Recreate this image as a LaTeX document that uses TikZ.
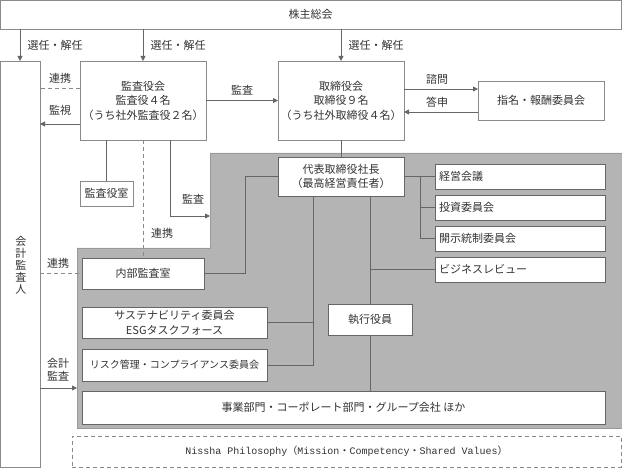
\documentclass[tikz,border=0pt]{standalone}
\usepackage{fontspec}
\setmainfont{Noto Sans CJK JP}
\newfontfamily\monof{Liberation Mono}
\usetikzlibrary{arrows.meta,calc,shadows}
\definecolor{txt}{HTML}{333333}
\definecolor{ln}{HTML}{666666}
\definecolor{bd}{HTML}{8A8A8A}
\definecolor{grayarea}{HTML}{B4B4B4}
\definecolor{grayedge}{HTML}{9A9A9A}
\begin{document}
\begin{tikzpicture}[x=1pt,y=-1pt,
 box/.style={draw=bd, fill=white, line width=0.8pt, inner sep=0pt, outer sep=0pt, text=txt, align=center, font=\fontsize{11}{14.5}\selectfont},
 ibox/.style={box, draw=ln, drop shadow={shadow xshift=1pt, shadow yshift=-1pt, fill=black, opacity=0.35}},
 rbox/.style={ibox, minimum width=170pt, minimum height=25pt, text width=162pt, align=left},
 lbl/.style={text=txt, inner sep=0pt, font=\fontsize{11}{13}\selectfont},
 conn/.style={draw=ln, line width=0.8pt},
 arr/.style={conn, -{Triangle[length=5pt,width=5pt]}},
 dsh/.style={draw=bd, line width=0.8pt, dash pattern=on 4pt off 3pt},
]
\useasboundingbox (0,0) rectangle (622,468);
% management area
\fill[grayarea, draw=grayedge, line width=0.6pt] (77,248) -- (210,248) -- (210,153) -- (622,153) -- (622,428) -- (77,428) -- cycle;

% boxes
\node[box, minimum width=621pt, minimum height=29pt] (share) at (310.5,14.5) {株主総会};
\node[box, minimum width=40pt, minimum height=406pt] (audit) at (20,264) {};
\node[lbl, align=center, font=\fontsize{11}{12}\selectfont] (auditlbl) at (21,265) {会\\計\\監\\査\\人};
\node[box, minimum width=126pt, minimum height=79pt] (kansa) at (143,100.5) {監査役会\\監査役４名\\（うち社外監査役２名）};
\node[box, minimum width=126pt, minimum height=79pt] (board) at (341,100.5) {取締役会\\取締役９名\\（うち社外取締役４名）};
\node[box, minimum width=126pt, minimum height=39pt] (shimei) at (541,100.5) {指名・報酬委員会};
\node[box, minimum width=53pt, minimum height=25pt] (kshitsu) at (106.5,193.5) {監査役室};
\node[ibox, minimum width=126pt, minimum height=39pt] (ceo) at (341,176.5) {代表取締役社長\\（最高経営責任者）};
\node[rbox] (keiei) at (520,176.5) {経営会議};
\node[rbox] (toshi) at (520,207.5) {投資委員会};
\node[rbox] (kaiji) at (520,238.5) {開示統制委員会};
\node[rbox] (biz) at (520,269.5) {ビジネスレビュー};
\node[ibox, minimum width=122pt, minimum height=31pt] (naibu) at (143,273.5) {内部監査室};
\node[ibox, minimum width=185pt, minimum height=31pt] (susta) at (174.5,322.5) {サステナビリティ委員会\\ESGタスクフォース};
\node[ibox, minimum width=185pt, minimum height=32pt, font=\fontsize{10}{12}\selectfont] (risk) at (174.5,365) {リスク管理・コンプライアンス委員会};
\node[ibox, minimum width=84pt, minimum height=31pt] (shikko) at (370,319.5) {執行役員};
\node[ibox, minimum width=523pt, minimum height=33pt] (jigyo) at (343.5,407.5) {事業部門・コーポレート部門・グループ会社 ほか};
\node[box, dsh, minimum width=549pt, minimum height=31pt, font=\fontsize{10}{12}\selectfont] (nissha) at (346.5,451.5) {{\monof Nissha Philosophy}（{\monof Mission}・{\monof Competency}・{\monof Shared Values}）};

\coordinate (mgmt) at (210,216);
\coordinate (mgmtleft) at (77,388);
\coordinate (bus) at (420,176.5);

% connectors
\draw[arr] (share.south -| audit.north) -- (audit.north);
\draw[arr] (share.south -| kansa.north) -- (kansa.north);
\draw[arr] (share.south -| board.north) -- (board.north);
\draw[arr] (kansa.east) -- (board.west);
\draw[dsh] (kansa.west |- 0,88) -- (audit.east |- 0,88);
\draw[arr] (kansa.west |- 0,124) -- (audit.east |- 0,124);
\draw[arr] (board.east |- 0,89) -- (shimei.west |- 0,89);
\draw[arr] (shimei.west |- 0,112) -- (board.east |- 0,112);
\draw[conn] (kansa.south -| kshitsu.north) -- (kshitsu.north);
\draw[dsh] (kansa.south) -- (naibu.north);
\draw[arr] (kansa.south -| 170,0) |- (mgmt);
\draw[conn] (board.south) -- (ceo.north);
\draw[conn] (naibu.east) -- ++(41,0) |- (ceo.west);
\draw[conn] (ceo.east) -- (keiei.west);
\draw[conn] (bus) |- (kaiji.west);
\draw[conn] (bus |- toshi.west) -- (toshi.west);
\draw[conn] (ceo.south -| shikko.north) -- (shikko.north);
\draw[conn] (shikko.north |- biz.west) -- (biz.west);
\draw[conn] (shikko.south) -- (jigyo.north -| shikko.south);
\draw[conn] (ceo.south -| 313,0) |- (risk.east);
\draw[conn] (susta.east) -- (susta.east -| 313,0);
\draw[arr] (audit.east |- mgmtleft) -- (mgmtleft);
\draw[dsh] (audit.east |- naibu.west) -- (naibu.west);

% labels
\node[lbl] (l1) at (55,45) {選任・解任};
\node[lbl] (l2) at (178,45) {選任・解任};
\node[lbl] (l3) at (376,45) {選任・解任};
\node[lbl] (l4) at (60,78) {連携};
\node[lbl] (l5) at (60,110) {監視};
\node[lbl] (l6) at (242,90) {監査};
\node[lbl] (l7) at (437,79) {諮問};
\node[lbl] (l8) at (437,102) {答申};
\node[lbl] (l9) at (193,199) {監査};
\node[lbl] (l10) at (162,233) {連携};
\node[lbl] (l11) at (58,263) {連携};
\node[lbl, align=center, font=\fontsize{11}{13}\selectfont] (l12) at (58,370) {会計\\監査};
\end{tikzpicture}
\end{document}
